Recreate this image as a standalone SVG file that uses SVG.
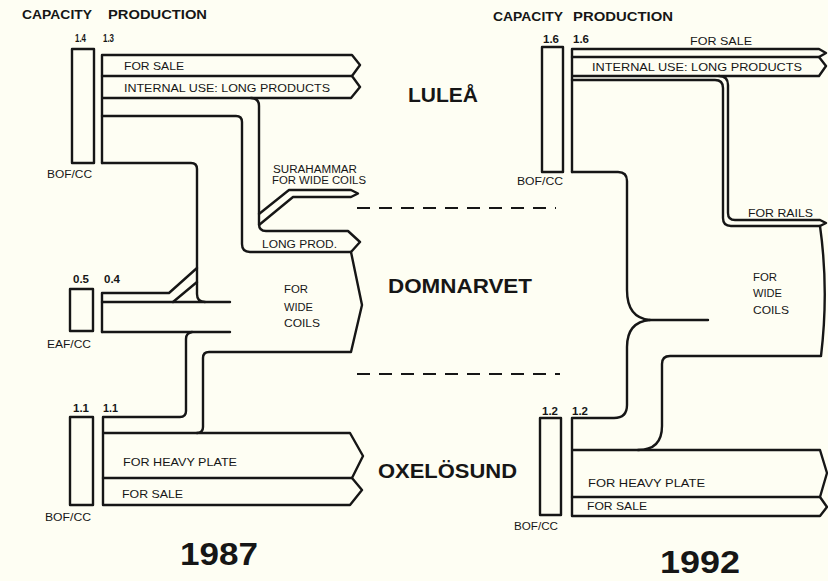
<svg xmlns="http://www.w3.org/2000/svg" width="828" height="581" viewBox="0 0 828 581">
<style>
.bg{fill:#fefef3}
.ln{fill:none;stroke:#161616;stroke-width:2.4;stroke-linejoin:round;stroke-linecap:round}
.dash{fill:none;stroke:#161616;stroke-width:2;stroke-dasharray:13 9}
text{font-family:"Liberation Sans",Arial,sans-serif;fill:#161616}
.hd{font-size:12.5px;font-weight:bold}
.num{font-size:10px;font-weight:bold}
.lb{font-size:11px}
.sm{font-size:10px}
.big{font-size:21px;font-weight:bold}
.yr{font-size:32px;font-weight:bold}
</style>
<rect class="bg" x="0" y="0" width="828" height="581"/>

<g id="connectors">
  <!-- 1987 Lulea -->
  <path class="ln" d="M102,163 V55 H352 L360,65 L352,76 L360,87 L351,98 H102"/>
  <path class="ln" d="M102,76 H352"/>
  <path class="ln" d="M251,98 Q259,98 259,106 V224 Q259,231 266,231 H348 L360,242 L351,252 H250 Q242,252 242,244 V122 Q242,116 236,116 H102"/>
  <path class="ln" d="M351,252 L362,305 L351,352 H209 Q203,352 203,358 V427 Q203,433 197,433"/>
  <path class="ln" d="M259,214 L289,190 H351 L358,193.5 L351,197 H293 L259,225"/>
  <path class="ln" d="M102,163 H191 Q197,163 197,169 V294 Q197,302 205,302"/>
  <!-- 1987 EAF -->
  <path class="ln" d="M102,332 V293 H169 L197,268"/>
  <path class="ln" d="M173,302 L197,282"/>
  <path class="ln" d="M102,302 H230"/>
  <path class="ln" d="M102,332 H230"/>
  <!-- 1987 Oxelosund -->
  <path class="ln" d="M192,332 Q186,333 186,339 V411 Q186,417 180,417 H103 V505 H350 L362,490 L352,478 L363,456 L350,433 H103"/>
  <path class="ln" d="M103,478 H352"/>

  <!-- 1992 Lulea -->
  <path class="ln" d="M572,172 V49 H819 L826,53 L819,57 L826,66 L819,76 H572"/>
  <path class="ln" d="M572,57 H819"/>
  <path class="ln" d="M719,76 Q728,76 728,85 V213 Q728,220 735,220 H820 L826,223 L820,226 H731 Q723,226 723,218 V88 Q723,80 715,80 H572"/>
  <path class="ln" d="M820,226 Q829,290 821,356 H670 Q662,356 662,364 V426 Q662,450 638,450"/>
  <path class="ln" d="M572,172 H618 Q627,172 627,181 V290 Q627,318 650,320 H708"/>
  <path class="ln" d="M650,320 Q627,322 627,347 V405 Q627,418 614,418 H572 V516 H820 L827,507 L820,497 L827,473 L820,450 H572"/>
  <path class="ln" d="M572,497 H820"/>

  <!-- separators -->
  <path class="dash" d="M357,208 H556"/>
  <path class="dash" d="M357,374 H560"/>
</g>

<g id="header-1987">
  <text class="hd" x="22" y="19" textLength="70" lengthAdjust="spacingAndGlyphs">CAPACITY</text>
  <text class="hd" x="108" y="19" textLength="99" lengthAdjust="spacingAndGlyphs">PRODUCTION</text>
</g>
<g id="header-1992">
  <text class="hd" x="493" y="21" textLength="70" lengthAdjust="spacingAndGlyphs">CAPACITY</text>
  <text class="hd" x="573" y="21" textLength="100" lengthAdjust="spacingAndGlyphs">PRODUCTION</text>
</g>

<g id="lulea-1987">
  <rect class="ln" x="72" y="49" width="22" height="114"/>
  <text class="num" x="75" y="42" textLength="11" lengthAdjust="spacingAndGlyphs">1.4</text>
  <text class="num" x="103" y="42" textLength="11" lengthAdjust="spacingAndGlyphs">1.3</text>
  <text class="sm" x="47" y="178" textLength="45" lengthAdjust="spacingAndGlyphs">BOF/CC</text>
  <text class="lb" x="124" y="70" textLength="60" lengthAdjust="spacingAndGlyphs">FOR SALE</text>
  <text class="lb" x="124" y="92" textLength="206" lengthAdjust="spacingAndGlyphs">INTERNAL USE: LONG PRODUCTS</text>
  <text class="sm" x="273" y="173" textLength="84" lengthAdjust="spacingAndGlyphs">SURAHAMMAR</text>
  <text class="sm" x="272" y="184" textLength="94" lengthAdjust="spacingAndGlyphs">FOR WIDE COILS</text>
  <text class="lb" x="262" y="248" textLength="75" lengthAdjust="spacingAndGlyphs">LONG PROD.</text>
</g>

<g id="eaf-1987">
  <rect class="ln" x="70" y="289" width="23" height="42"/>
  <text class="num" x="73" y="283" textLength="16" lengthAdjust="spacingAndGlyphs">0.5</text>
  <text class="num" x="104" y="283" textLength="16" lengthAdjust="spacingAndGlyphs">0.4</text>
  <text class="sm" x="47" y="348" textLength="44" lengthAdjust="spacingAndGlyphs">EAF/CC</text>
</g>

<g id="domnarvet-1987">
  <text class="lb" x="284" y="293" textLength="24" lengthAdjust="spacingAndGlyphs">FOR</text>
  <text class="lb" x="284" y="311" textLength="29" lengthAdjust="spacingAndGlyphs">WIDE</text>
  <text class="lb" x="284" y="327" textLength="36" lengthAdjust="spacingAndGlyphs">COILS</text>
</g>

<g id="oxelosund-1987">
  <rect class="ln" x="70" y="417" width="23" height="88"/>
  <text class="num" x="73" y="412" textLength="16" lengthAdjust="spacingAndGlyphs">1.1</text>
  <text class="num" x="103" y="412" textLength="15" lengthAdjust="spacingAndGlyphs">1.1</text>
  <text class="lb" x="123" y="466" textLength="114" lengthAdjust="spacingAndGlyphs">FOR HEAVY PLATE</text>
  <text class="lb" x="122" y="498" textLength="61" lengthAdjust="spacingAndGlyphs">FOR SALE</text>
  <text class="sm" x="45" y="521" textLength="46" lengthAdjust="spacingAndGlyphs">BOF/CC</text>
</g>

<g id="site-labels">
  <text class="big" x="408" y="102" textLength="70" lengthAdjust="spacingAndGlyphs">LULEÅ</text>
  <text class="big" x="388" y="293" textLength="144" lengthAdjust="spacingAndGlyphs">DOMNARVET</text>
  <text class="big" x="378" y="478" textLength="139" lengthAdjust="spacingAndGlyphs">OXELÖSUND</text>
</g>

<g id="lulea-1992">
  <rect class="ln" x="542" y="47" width="21" height="125"/>
  <text class="num" x="543" y="43" textLength="16" lengthAdjust="spacingAndGlyphs">1.6</text>
  <text class="num" x="573" y="43" textLength="16" lengthAdjust="spacingAndGlyphs">1.6</text>
  <text class="sm" x="517" y="185" textLength="46" lengthAdjust="spacingAndGlyphs">BOF/CC</text>
  <text class="lb" x="690" y="45" textLength="62" lengthAdjust="spacingAndGlyphs">FOR SALE</text>
  <text class="lb" x="592" y="71" textLength="210" lengthAdjust="spacingAndGlyphs">INTERNAL USE: LONG PRODUCTS</text>
  <text class="lb" x="748" y="217" textLength="65" lengthAdjust="spacingAndGlyphs">FOR RAILS</text>
</g>

<g id="domnarvet-1992">
  <text class="lb" x="753" y="281" textLength="24" lengthAdjust="spacingAndGlyphs">FOR</text>
  <text class="lb" x="753" y="297" textLength="29" lengthAdjust="spacingAndGlyphs">WIDE</text>
  <text class="lb" x="753" y="314" textLength="36" lengthAdjust="spacingAndGlyphs">COILS</text>
</g>

<g id="oxelosund-1992">
  <rect class="ln" x="540" y="418" width="21" height="97"/>
  <text class="num" x="542" y="415" textLength="16" lengthAdjust="spacingAndGlyphs">1.2</text>
  <text class="num" x="572" y="415" textLength="16" lengthAdjust="spacingAndGlyphs">1.2</text>
  <text class="lb" x="588" y="487" textLength="117" lengthAdjust="spacingAndGlyphs">FOR HEAVY PLATE</text>
  <text class="lb" x="587" y="510" textLength="60" lengthAdjust="spacingAndGlyphs">FOR SALE</text>
  <text class="sm" x="514" y="530" textLength="44" lengthAdjust="spacingAndGlyphs">BOF/CC</text>
</g>

<g id="years">
  <text class="yr" x="180" y="565" textLength="78" lengthAdjust="spacingAndGlyphs">1987</text>
  <text class="yr" x="660" y="573" textLength="80" lengthAdjust="spacingAndGlyphs">1992</text>
</g>
</svg>
